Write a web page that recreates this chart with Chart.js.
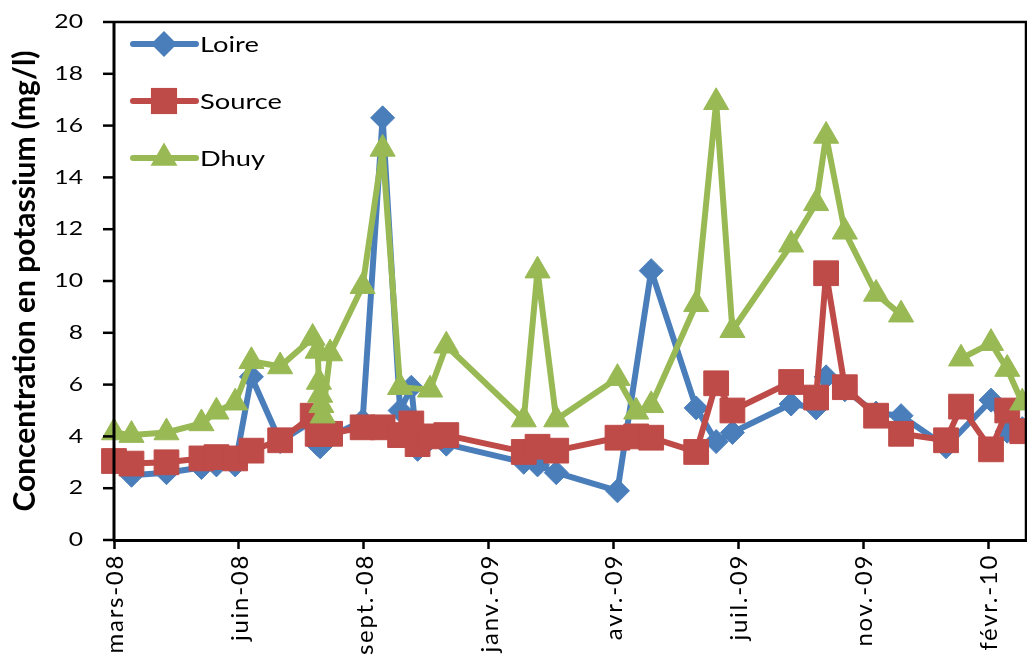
<!DOCTYPE html>
<html>
<head>
<meta charset="utf-8">
<script src="https://cdn.jsdelivr.net/npm/chart.js@4/dist/chart.umd.min.js"></script>
<style>
  html, body { margin: 0; padding: 0; background: #fff; overflow: hidden; }
  #wrap { position: absolute; left: 0; top: 0; width: 1027px; height: 700px; }
</style>
</head>
<body>
<div id="wrap"><canvas id="my-chart"></canvas></div>
<script>
'use strict';

// Data (sampling dates shared by Loire and Source)
let dates = ['2008-03-13', '2008-03-27', '2008-04-24', '2008-05-22', '2008-06-03', '2008-06-18',
  '2008-07-01', '2008-07-24', '2008-08-19', '2008-08-23', '2008-08-25', '2008-09-02', '2008-09-28',
  '2008-10-14', '2008-10-28', '2008-11-06', '2008-11-11', '2008-11-21', '2008-12-04', '2009-02-04',
  '2009-02-15', '2009-03-02', '2009-04-20', '2009-05-05', '2009-05-17', '2009-06-22', '2009-07-08',
  '2009-07-21', '2009-09-06', '2009-09-26', '2009-10-04', '2009-10-19', '2009-11-13', '2009-12-03',
  '2010-01-08', '2010-01-20', '2010-02-13', '2010-02-26', '2010-03-10'];

let loire = [3.0, 2.5, 2.6, 2.8, 2.9, 2.9,
  6.3, 3.8, 4.6, 3.7, 3.6, 4.0, 4.6,
  16.3, 5.0, 5.9, 3.5, 3.9, 3.7, 3.0,
  2.9, 2.6, 1.9, null, 10.4, 5.1, 3.8,
  4.15, 5.25, 5.1, 6.3, 5.8, 4.9, 4.8,
  3.6, null, 5.4, 4.2, 4.3];

let source = [3.05, 2.95, 3.0, 3.15, 3.2, 3.15,
  3.45, 3.85, 4.8, 4.1, 4.1, 4.1, 4.35,
  4.35, 4.05, 4.5, 3.7, 4.0, 4.05, 3.4,
  3.6, 3.45, 3.95, 4.0, 3.95, 3.4, 6.05,
  5.0, 6.1, 5.5, 10.3, 5.9, 4.8, 4.1,
  3.85, 5.15, 3.5, 5.0, 4.2];

// Dhuy has its own dates (null = no sample, line broken)
let dhuyDates = ['2008-03-13', '2008-03-27', '2008-04-24', '2008-05-22', '2008-06-03', '2008-06-18',
  '2008-07-01', '2008-07-24', '2008-08-19', '2008-08-23', '2008-08-24', '2008-08-25', '2008-08-26',
  '2008-08-27', '2008-09-02', '2008-09-28', '2008-10-14', '2008-10-28', '2008-11-21', '2008-12-04',
  '2009-02-04', '2009-02-15', '2009-03-02', '2009-04-20', '2009-05-05', '2009-05-17', '2009-06-22',
  '2009-07-08', '2009-07-21', '2009-09-06', '2009-09-26', '2009-10-04', '2009-10-19', '2009-11-13',
  '2009-12-03', '2010-01-08', '2010-01-20', '2010-02-13', '2010-02-26', '2010-03-10'];

let dhuy = [4.15, 4.05, 4.15, 4.5, 4.95, 5.3,
  6.9, 6.7, 7.8, 7.3, 6.1, 5.6, 5.2,
  4.8, 7.2, 9.8, 15.1, 5.9, 5.8, 7.5,
  4.65, 10.4, 4.65, 6.25, 4.95, 5.2, 9.1,
  16.9, 8.1, 11.4, 13.0, 15.6, 11.9, 9.5,
  8.7, null, 7.0, 7.6, 6.6, 5.3];

// x axis: Excel-like date axis, one label every 100 days
let axisStart = '2008-03-13';
let axisDays = 730;
let tickLabels = ['mars-08', 'juin-08', 'sept.-08', 'janv.-09', 'avr.-09', 'juil.-09', 'nov.-09', 'févr.-10'];
let yTicks = [0, 2, 4, 6, 8, 10, 12, 14, 16, 18, 20];

// Helper Functions
function dayNum(s) {
  return Date.parse(s) / 86400000;
}

function toPoints(ds, vals) {
  let pts = [];
  for (let i = 0; i < ds.length; i++) {
    pts.push({ x: dayNum(ds[i]), y: vals[i] });
  }
  return pts;
}

function dropNulls(pts) {
  return pts.filter(p => p.y !== null);
}

let x0 = dayNum(axisStart);

let blue = '#4A7EBB';
let red = '#BE4B48';
let green = '#98B954';

// marker drawing for the legend
function drawMarker(ctx, style, x, y, r, color) {
  ctx.save();
  ctx.fillStyle = color;
  ctx.beginPath();
  if (style === 'rectRot') {
    ctx.moveTo(x, y - r);
    ctx.lineTo(x + r, y);
    ctx.lineTo(x, y + r);
    ctx.lineTo(x - r, y);
  } else if (style === 'rect') {
    let h = r * Math.SQRT1_2;
    ctx.rect(x - h, y - h, 2 * h, 2 * h);
  } else {
    ctx.moveTo(x, y - r);
    ctx.lineTo(x + r * Math.sqrt(3) / 2, y + r / 2);
    ctx.lineTo(x - r * Math.sqrt(3) / 2, y + r / 2);
  }
  ctx.closePath();
  ctx.fill();
  ctx.restore();
}

// text is a bit wide in the original, so stretch it sideways
function wideText(ctx, txt, x, y, size, align) {
  ctx.save();
  ctx.translate(x, y);
  ctx.scale(1.3, 1);
  ctx.font = size + 'px Lato';
  ctx.fillStyle = '#000';
  ctx.textAlign = align;
  ctx.textBaseline = 'middle';
  ctx.fillText(txt, 0, 0);
  ctx.restore();
}

// y axis line + ticks, tick labels, legend inside the plot, top/right frame
let framePlugin = {
  id: 'frameAndLegend',
  afterDraw(chart) {
    let ctx = chart.ctx;
    let a = chart.chartArea;
    let xs = chart.scales.x;
    let ys = chart.scales.y;
    ctx.save();
    ctx.strokeStyle = '#000';
    ctx.lineWidth = 2.5;
    ctx.beginPath();
    ctx.moveTo(a.left, a.top);
    ctx.lineTo(a.right, a.top);
    ctx.lineTo(a.right, a.bottom);
    ctx.stroke();

    // y axis
    ctx.lineWidth = 3;
    ctx.beginPath();
    ctx.moveTo(a.left, a.top - 1);
    ctx.lineTo(a.left, a.bottom + 1);
    ctx.stroke();
    ctx.lineWidth = 2.5;
    for (let i = 0; i < yTicks.length; i++) {
      let py = ys.getPixelForValue(yTicks[i]);
      ctx.beginPath();
      ctx.moveTo(a.left - 11, py);
      ctx.lineTo(a.left, py);
      ctx.stroke();
      wideText(ctx, String(yTicks[i]), a.left - 31, py, 19, 'right');
    }

    // x tick labels, rotated
    for (let i = 0; i < tickLabels.length; i++) {
      let px = xs.getPixelForValue(x0 + i * 100);
      ctx.save();
      ctx.translate(px + 1, a.bottom + 14);
      ctx.rotate(-Math.PI / 2);
      ctx.font = '24px Lato';
      ctx.letterSpacing = '1.7px';
      ctx.fillStyle = '#000';
      ctx.textAlign = 'right';
      ctx.textBaseline = 'middle';
      ctx.fillText(tickLabels[i], 0, 0);
      ctx.restore();
    }

    let items = chart.data.datasets;
    for (let i = 0; i < items.length; i++) {
      let d = items[i];
      let y = 44 + i * 57;
      ctx.strokeStyle = d.borderColor;
      ctx.lineWidth = 6;
      ctx.lineCap = 'round';
      ctx.beginPath();
      ctx.moveTo(133, y);
      ctx.lineTo(196, y);
      ctx.stroke();
      drawMarker(ctx, d.pointStyle, 164, y, d.pointRadius + 1, d.borderColor);
      wideText(ctx, d.label, 200, y + 1, 21, 'left');
    }
    ctx.restore();
  }
};

let canvasElem = document.getElementById('my-chart');

let myObj = {
  type: 'line',
  data: {
    datasets: [{
      label: 'Loire',
      data: dropNulls(toPoints(dates, loire)),
      borderColor: blue,
      backgroundColor: blue,
      borderWidth: 6,
      pointStyle: 'rectRot',
      pointRadius: 12,
      pointBorderWidth: 1,
      order: 3
    },
    {
      label: 'Source',
      data: dropNulls(toPoints(dates, source)),
      borderColor: red,
      backgroundColor: red,
      borderWidth: 6,
      pointStyle: 'rect',
      pointRadius: 17.5,
      pointBorderWidth: 1,
      order: 2
    },
    {
      label: 'Dhuy',
      data: toPoints(dhuyDates, dhuy),
      borderColor: green,
      backgroundColor: green,
      borderWidth: 6,
      pointStyle: 'triangle',
      pointRadius: 14.5,
      pointBorderWidth: 1,
      spanGaps: false,
      order: 1
    }]
  },
  options: {
    responsive: true,
    maintainAspectRatio: false,
    animation: false,
    clip: false,
    elements: {
      line: { tension: 0, borderJoinStyle: 'round', borderCapStyle: 'round' }
    },
    layout: { autoPadding: false, padding: { top: 22, right: 1, left: 0, bottom: 0 } },
    plugins: {
      legend: { display: false },
      tooltip: { enabled: false }
    },
    scales: {
      x: {
        type: 'linear',
        min: x0,
        max: x0 + axisDays,
        afterFit(s) { s.height = 160; },
        afterBuildTicks(s) {
          s.ticks = tickLabels.map((t, i) => ({ value: x0 + i * 100 }));
        },
        ticks: { display: false },
        grid: { display: true, drawOnChartArea: false, drawTicks: true, tickLength: 9, tickColor: '#000', tickWidth: 2.5 },
        border: { color: '#000', width: 3 }
      },
      y: {
        min: 0,
        max: 20,
        afterFit(s) { s.width = 114; },
        afterBuildTicks(s) {
          s.ticks = yTicks.map(v => ({ value: v }));
        },
        ticks: { display: false },
        title: {
          display: true,
          text: 'Concentration en potassium (mg/l)',
          color: '#000',
          font: { family: 'Lato', size: 30, weight: 'bold' },
          padding: { top: 7, bottom: 0 }
        },
        grid: { display: false },
        border: { display: false }
      }
    }
  },
  plugins: [framePlugin]
};

new Chart(canvasElem, myObj);
</script>
</body>
</html>
